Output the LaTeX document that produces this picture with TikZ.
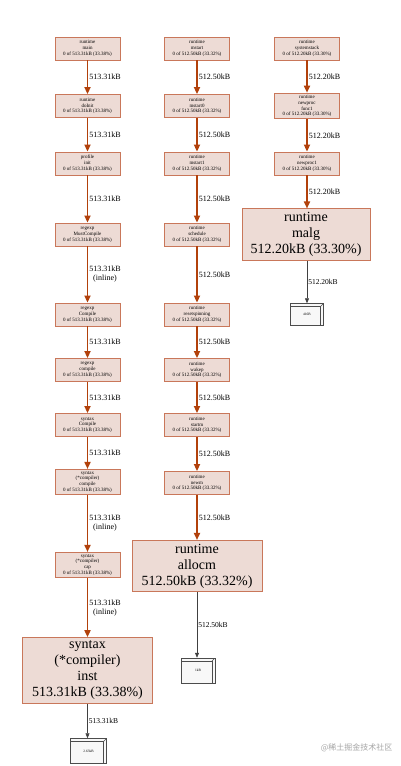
\documentclass[tikz,border=0pt]{standalone}
\usepackage{fontspec}
\setmainfont{Liberation Serif}
\newfontfamily\cjk{Noto Sans CJK SC}
\usetikzlibrary{arrows.meta}
\definecolor{nodefill}{HTML}{EDDBD5}
\definecolor{nodeline}{HTML}{C9775A}
\definecolor{edgecol}{HTML}{B2410B}
\definecolor{leaffill}{HTML}{F8F8F8}
\begin{document}
\begin{tikzpicture}[x=1pt,y=-1pt,
  fn/.style={draw=nodeline,fill=nodefill,line width=0.8pt,minimum width=65pt,minimum height=23pt,inner xsep=1pt,inner ysep=2pt,align=center,font=\fontsize{5}{5.8}\selectfont},
  flat/.style={fn,minimum width=130pt,inner ysep=3.5pt,font=\fontsize{14}{16}\selectfont},
  leaf/.style={draw=black!70,fill=leaffill,line width=0.5pt,minimum width=36pt,minimum height=25pt,font=\fontsize{3.5}{4}\selectfont,
    path picture={\draw[black!70,line width=0.4pt] ([yshift=-3pt]path picture bounding box.north west) -- ([xshift=-3pt,yshift=-3pt]path picture bounding box.north east) -- ([xshift=-3pt]path picture bounding box.south east);
      \draw[black!70,line width=0.4pt] ([xshift=-3pt,yshift=-3pt]path picture bounding box.north east) -- (path picture bounding box.north east);}},
  call/.style={-{Triangle[length=7pt,width=6pt]},line width=1.6pt,draw=edgecol},
  alloc/.style={-{Triangle[length=5pt,width=4pt]},line width=0.6pt,draw=black!75},
  lbl/.style={midway,right,font=\fontsize{8}{9}\selectfont,align=center,inner sep=1pt},
  albl/.style={lbl,font=\fontsize{7.5}{8.5}\selectfont}]
\useasboundingbox[fill=white] (0,0) rectangle (400,766);
% compile chain
\node[fn] (main) at (87.5,48.5) {runtime\\main\\0 of 513.31kB (33.38\%)};
\node[fn] (doinit) at (87.5,106) {runtime\\doInit\\0 of 513.31kB (33.38\%)};
\node[fn] (pinit) at (87.5,163.5) {profile\\init\\0 of 513.31kB (33.38\%)};
\node[fn] (mustcompile) at (87.5,234.5) {regexp\\MustCompile\\0 of 513.31kB (33.38\%)};
\node[fn] (recompile) at (87.5,314.5) {regexp\\Compile\\0 of 513.31kB (33.38\%)};
\node[fn] (recomp) at (87.5,370) {regexp\\compile\\0 of 513.31kB (33.38\%)};
\node[fn] (syncompile) at (87.5,425) {syntax\\Compile\\0 of 513.31kB (33.38\%)};
\node[fn] (ccompile) at (87.5,482) {syntax\\(*compiler)\\compile\\0 of 513.31kB (33.38\%)};
\node[fn] (ccap) at (87.5,565) {syntax\\(*compiler)\\cap\\0 of 513.31kB (33.38\%)};
\node[flat] (cinst) at (87.5,670.5) {syntax\\(*compiler)\\inst\\513.31kB (33.38\%)};
\node[leaf] (leafinst) at (88.5,751) {2.63kB};
\draw[call] (main)--(doinit) node[lbl] {513.31kB};
\draw[call] (doinit)--(pinit) node[lbl] {513.31kB};
\draw[call] (pinit)--(mustcompile) node[lbl] {513.31kB};
\draw[call] (mustcompile)--(recompile) node[lbl] {513.31kB\\(inline)};
\draw[call] (recompile)--(recomp) node[lbl] {513.31kB};
\draw[call] (recomp)--(syncompile) node[lbl] {513.31kB};
\draw[call] (syncompile)--(ccompile) node[lbl] {513.31kB};
\draw[call] (ccompile)--(ccap) node[lbl] {513.31kB\\(inline)};
\draw[call] (ccap)--(cinst) node[lbl] {513.31kB\\(inline)};
\draw[alloc] (cinst)--(cinst|-leafinst.north) node[albl] {513.31kB};
% mstart chain
\node[fn] (mstart) at (197,48.5) {runtime\\mstart\\0 of 512.50kB (33.32\%)};
\node[fn] (mstartz) at (197,106) {runtime\\mstart0\\0 of 512.50kB (33.32\%)};
\node[fn] (mstarto) at (197,163.5) {runtime\\mstart1\\0 of 512.50kB (33.32\%)};
\node[fn] (schedule) at (197,234.5) {runtime\\schedule\\0 of 512.50kB (33.32\%)};
\node[fn] (resetspin) at (197,314.5) {runtime\\resetspinning\\0 of 512.50kB (33.32\%)};
\node[fn] (wakep) at (197,370) {runtime\\wakep\\0 of 512.50kB (33.32\%)};
\node[fn] (startm) at (197,425) {runtime\\startm\\0 of 512.50kB (33.32\%)};
\node[fn] (newm) at (197,483) {runtime\\newm\\0 of 512.50kB (33.32\%)};
\node[flat] (allocm) at (197,566) {runtime\\allocm\\512.50kB (33.32\%)};
\node[leaf,minimum width=34pt] (leafallocm) at (198,670.5) {1kB};
\draw[call] (mstart)--(mstartz) node[lbl] {512.50kB};
\draw[call] (mstartz)--(mstarto) node[lbl] {512.50kB};
\draw[call] (mstarto)--(schedule) node[lbl] {512.50kB};
\draw[call] (schedule)--(resetspin) node[lbl] {512.50kB};
\draw[call] (resetspin)--(wakep) node[lbl] {512.50kB};
\draw[call] (wakep)--(startm) node[lbl] {512.50kB};
\draw[call] (startm)--(newm) node[lbl] {512.50kB};
\draw[call] (newm)--(allocm) node[lbl] {512.50kB};
\draw[alloc] (allocm)--(allocm|-leafallocm.north) node[albl] {512.50kB};
% newproc chain
\node[fn] (systemstack) at (307,48.5) {runtime\\systemstack\\0 of 512.20kB (33.30\%)};
\node[fn] (newprocf) at (307,106) {runtime\\newproc\\func1\\0 of 512.20kB (33.30\%)};
\node[fn] (newproco) at (307,163.5) {runtime\\newproc1\\0 of 512.20kB (33.30\%)};
\node[flat,minimum width=128pt] (malg) at (306,234.5) {runtime\\malg\\512.20kB (33.30\%)};
\node[leaf,minimum width=33pt,minimum height=22pt] (leafmalg) at (307,314.5) {416B};
\draw[call] (systemstack)--(newprocf) node[lbl] {512.20kB};
\draw[call] (newprocf)--(newproco) node[lbl] {512.20kB};
\draw[call] (newproco)--(newproco|-malg.north) node[lbl] {512.20kB};
\draw[alloc] (leafmalg|-malg.south)--(leafmalg) node[albl] {512.20kB};
% watermark
\node[font=\cjk\fontsize{8}{9}\selectfont,text=black!35,anchor=east] (mark) at (396,748) {@稀土掘金技术社区};
\end{tikzpicture}
\end{document}
